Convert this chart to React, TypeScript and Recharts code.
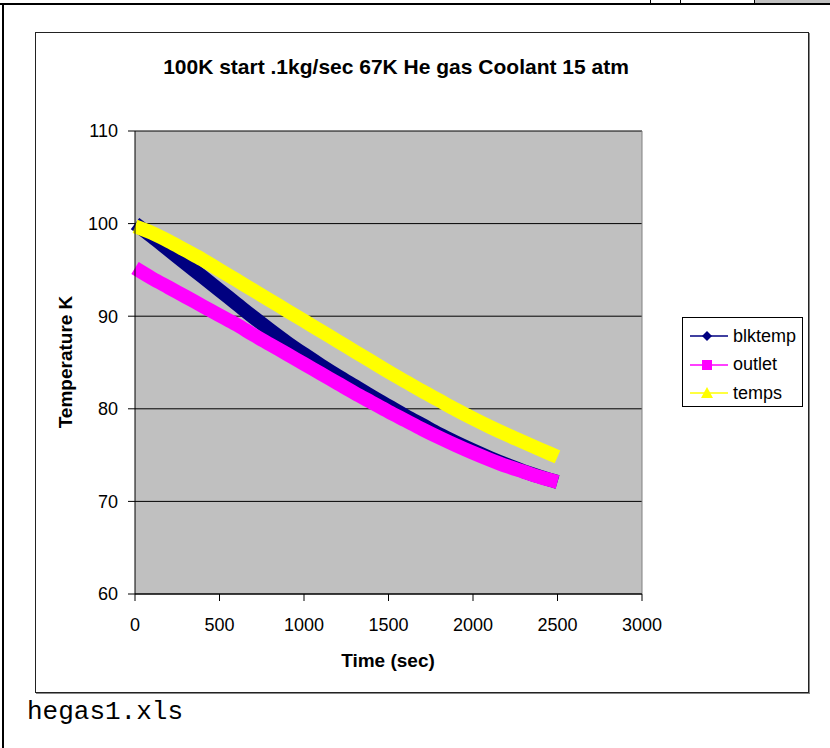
import React from "react";
import {
  LineChart, Line, XAxis, YAxis, CartesianGrid, ReferenceLine,
} from "recharts";

// time in seconds, one point per 100 s
const TIME = [
  0, 100, 200, 300, 400, 500, 600, 700, 800, 900, 1000, 1100, 1200,
  1300, 1400, 1500, 1600, 1700, 1800, 1900, 2000, 2100, 2200, 2300, 2400, 2500,
];
const BLKTEMP = [
  100.0, 98.6, 97.15, 95.7, 94.25, 92.8, 91.35, 89.9, 88.5, 87.15, 85.9, 84.7, 83.55,
  82.45, 81.35, 80.3, 79.25, 78.25, 77.25, 76.35, 75.5, 74.7, 73.95, 73.25, 72.65, 72.1,
];
const OUTLET = [
  95.2, 94.1, 93.1, 92.1, 91.1, 90.1, 89.1, 88.0, 86.95, 85.9, 84.85, 83.8, 82.75,
  81.7, 80.7, 79.7, 78.75, 77.8, 76.9, 76.05, 75.25, 74.5, 73.8, 73.2, 72.6, 72.1,
];
const TEMPS = [
  99.7, 99.0, 98.1, 97.1, 96.1, 95.0, 93.9, 92.8, 91.7, 90.6, 89.5, 88.4, 87.3,
  86.2, 85.1, 84.0, 82.95, 81.9, 80.9, 79.9, 78.95, 78.05, 77.2, 76.4, 75.6, 74.8,
];
const X_TICKS = [0, 500, 1000, 1500, 2000, 2500, 3000];
const Y_TICKS = [60, 70, 80, 90, 100, 110];

const SERIES = [
  { key: "blktemp", color: "#000080", marker: "diamond" },
  { key: "outlet",  color: "#FF00FF", marker: "square" },
  { key: "temps",   color: "#FFFF00", marker: "triangle" },
];

const data = TIME.map((t, i) => ({
  t, blktemp: BLKTEMP[i], outlet: OUTLET[i], temps: TEMPS[i],
}));

const FONT = "'Liberation Sans', Arial, sans-serif";

function Marker({ kind, color }: { kind: string; color: string }) {
  if (kind === "diamond") return <polygon points="18,2 23,7 18,12 13,7" fill={color} />;
  if (kind === "square") return <rect x={13} y={2} width={10} height={10} fill={color} />;
  return <polygon points="18,1 24,12 12,12" fill={color} />;
}

function LegendBox() {
  return (
    <div style={{
      position: "absolute", left: 682, top: 317,
      width: 121, height: 90, border: "1px solid #000", background: "#fff",
      boxSizing: "border-box", paddingTop: 4, fontFamily: FONT, fontSize: 18,
    }}>
      {SERIES.map(s => (
        <div key={s.key} style={{ display: "flex", alignItems: "center", height: 28.5 }}>
          <svg width={48} height={14} style={{ marginLeft: 6 }}>
            <line x1={1} y1={7} x2={39} y2={7} stroke={s.color} strokeWidth={1.5} />
            <Marker kind={s.marker} color={s.color} />
          </svg>
          <span style={{ marginLeft: -4, color: "#000" }}>{s.key}</span>
        </div>
      ))}
    </div>
  );
}

export default function App() {
  return (
    <div style={{
      position: "absolute", left: 0, top: 0, width: 830, height: 748,
      background: "#fff", overflow: "hidden", fontFamily: FONT,
    }}>
      {/* page frame bits */}
      <div style={{ position: "absolute", left: 754, top: 0, width: 76, height: 3, background: "#c0c0c0" }} />
      <div style={{ position: "absolute", left: 0, top: 3, width: 830, height: 2, background: "#000" }} />
      <div style={{ position: "absolute", left: 2, top: 3, width: 2, height: 745, background: "#000" }} />
      {[650, 680, 754].map(x => (
        <div key={x} style={{ position: "absolute", left: x, top: 0, width: 1, height: 3, background: "#000" }} />
      ))}
      {/* chart frame */}
      <div style={{
        position: "absolute", left: 35, top: 32, width: 772, height: 659,
        border: "1px solid #222", boxShadow: "1px 1px 0 #888",
      }} />

      <LineChart
        width={830}
        height={748}
        data={data}
        margin={{ top: 131, right: 188, bottom: 114, left: 75 }}
        style={{ position: "absolute", left: 0, top: 0 }}
      >
        <CartesianGrid vertical={false} stroke="#000" fill="#c0c0c0" fillOpacity={1} />
        <XAxis
          type="number" dataKey="t" domain={[0, 3000]} ticks={X_TICKS}
          height={40} tickSize={7} tickMargin={17}
          stroke="#000" tick={{ fill: "#000", fontSize: 18, fontFamily: FONT }}
        />
        <YAxis
          type="number" domain={[60, 110]} ticks={Y_TICKS}
          width={60} tickSize={7} tickMargin={10}
          stroke="#000" tick={{ fill: "#000", fontSize: 18, fontFamily: FONT }}
        />
        <ReferenceLine x={3000} stroke="#808080" />
        {SERIES.map(s => (
          <Line
            key={s.key} type="monotone" dataKey={s.key} stroke={s.color}
            strokeWidth={14} dot={false} isAnimationActive={false}
          />
        ))}
      </LineChart>

      <LegendBox />

      <div style={{
        position: "absolute", left: 0, width: 792, top: 55, textAlign: "center",
        fontWeight: "bold", fontSize: 21, color: "#000",
      }}>
        100K start .1kg/sec 67K He gas Coolant 15 atm
      </div>
      <div style={{
        position: "absolute", left: 288, width: 200, top: 650, textAlign: "center",
        fontWeight: "bold", fontSize: 19, color: "#000",
      }}>
        Time (sec)
      </div>
      <div style={{
        position: "absolute", left: 66, top: 363, width: 0, height: 0,
      }}>
        <div style={{
          position: "absolute", left: -100, top: -12, width: 200, textAlign: "center",
          transform: "rotate(-90deg)", fontWeight: "bold", fontSize: 19, color: "#000",
          whiteSpace: "nowrap",
        }}>
          Temperature K
        </div>
      </div>
      <div style={{
        position: "absolute", left: 27, top: 697, fontFamily: "'Liberation Mono', 'Courier New', monospace",
        fontSize: 26, color: "#000",
      }}>
        hegas1.xls
      </div>
    </div>
  );
}
